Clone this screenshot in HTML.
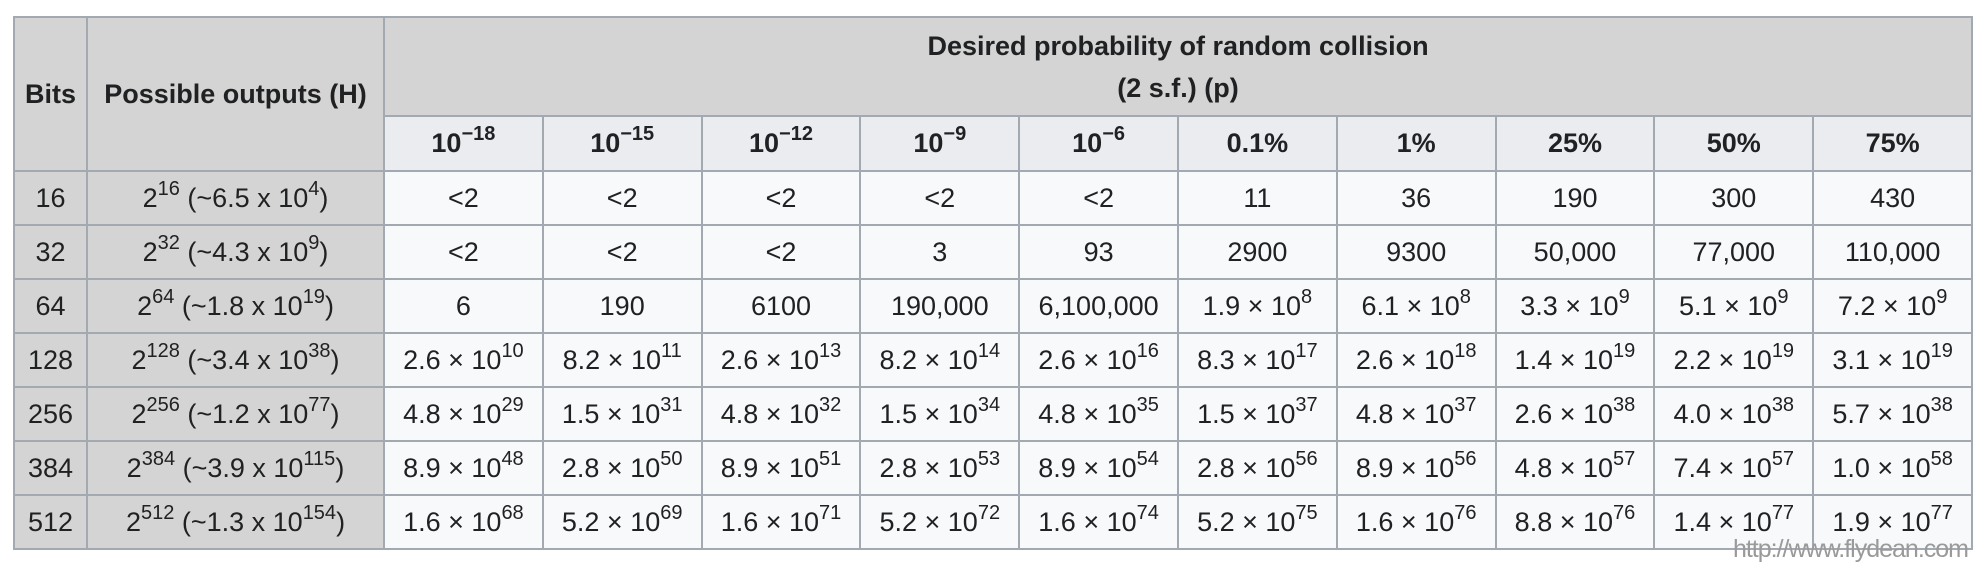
<!DOCTYPE html>
<html><head><style>
html,body{margin:0;padding:0;background:#fff;width:1974px;height:564px;overflow:hidden}
table{position:absolute;left:13px;top:16px;border-collapse:collapse;table-layout:fixed;width:1958px;font-family:"Liberation Sans",sans-serif;font-size:27px;color:#202122}
td,th{border:2px solid #a2a9b1;text-align:center;padding:0;background:#f8f9fa;white-space:nowrap}
th{font-weight:bold}
.g{background:#d4d4d4}
.s{background:#eaecf0;height:53px}
tr.d td{height:52px}
sup{font-size:20px;vertical-align:12px;line-height:0}
.wm{position:absolute;right:6px;top:535px;font-family:"Liberation Sans",sans-serif;font-size:25px;color:#9a9a9a;letter-spacing:-1px}
</style></head><body>
<table>
<colgroup><col style="width:73px"><col style="width:297px"><col span="10" style="width:158.8px"></colgroup>
<tr style="height:99px"><th class="g" rowspan="2">Bits</th><th class="g" rowspan="2">Possible outputs (H)</th><th class="g" colspan="10" style="line-height:42px">Desired probability of random collision<br>(2 s.f.) (p)</th></tr>
<tr><th class="s">10<sup>−18</sup></th><th class="s">10<sup>−15</sup></th><th class="s">10<sup>−12</sup></th><th class="s">10<sup>−9</sup></th><th class="s">10<sup>−6</sup></th><th class="s">0.1%</th><th class="s">1%</th><th class="s">25%</th><th class="s">50%</th><th class="s">75%</th></tr>
<tr class="d"><td class="g">16</td><td class="g">2<sup>16</sup> (~6.5 x 10<sup>4</sup>)</td><td>&lt;2</td><td>&lt;2</td><td>&lt;2</td><td>&lt;2</td><td>&lt;2</td><td>11</td><td>36</td><td>190</td><td>300</td><td>430</td></tr>
<tr class="d"><td class="g">32</td><td class="g">2<sup>32</sup> (~4.3 x 10<sup>9</sup>)</td><td>&lt;2</td><td>&lt;2</td><td>&lt;2</td><td>3</td><td>93</td><td>2900</td><td>9300</td><td>50,000</td><td>77,000</td><td>110,000</td></tr>
<tr class="d"><td class="g">64</td><td class="g">2<sup>64</sup> (~1.8 x 10<sup>19</sup>)</td><td>6</td><td>190</td><td>6100</td><td>190,000</td><td>6,100,000</td><td>1.9 × 10<sup>8</sup></td><td>6.1 × 10<sup>8</sup></td><td>3.3 × 10<sup>9</sup></td><td>5.1 × 10<sup>9</sup></td><td>7.2 × 10<sup>9</sup></td></tr>
<tr class="d"><td class="g">128</td><td class="g">2<sup>128</sup> (~3.4 x 10<sup>38</sup>)</td><td>2.6 × 10<sup>10</sup></td><td>8.2 × 10<sup>11</sup></td><td>2.6 × 10<sup>13</sup></td><td>8.2 × 10<sup>14</sup></td><td>2.6 × 10<sup>16</sup></td><td>8.3 × 10<sup>17</sup></td><td>2.6 × 10<sup>18</sup></td><td>1.4 × 10<sup>19</sup></td><td>2.2 × 10<sup>19</sup></td><td>3.1 × 10<sup>19</sup></td></tr>
<tr class="d"><td class="g">256</td><td class="g">2<sup>256</sup> (~1.2 x 10<sup>77</sup>)</td><td>4.8 × 10<sup>29</sup></td><td>1.5 × 10<sup>31</sup></td><td>4.8 × 10<sup>32</sup></td><td>1.5 × 10<sup>34</sup></td><td>4.8 × 10<sup>35</sup></td><td>1.5 × 10<sup>37</sup></td><td>4.8 × 10<sup>37</sup></td><td>2.6 × 10<sup>38</sup></td><td>4.0 × 10<sup>38</sup></td><td>5.7 × 10<sup>38</sup></td></tr>
<tr class="d"><td class="g">384</td><td class="g">2<sup>384</sup> (~3.9 x 10<sup>115</sup>)</td><td>8.9 × 10<sup>48</sup></td><td>2.8 × 10<sup>50</sup></td><td>8.9 × 10<sup>51</sup></td><td>2.8 × 10<sup>53</sup></td><td>8.9 × 10<sup>54</sup></td><td>2.8 × 10<sup>56</sup></td><td>8.9 × 10<sup>56</sup></td><td>4.8 × 10<sup>57</sup></td><td>7.4 × 10<sup>57</sup></td><td>1.0 × 10<sup>58</sup></td></tr>
<tr class="d"><td class="g">512</td><td class="g">2<sup>512</sup> (~1.3 x 10<sup>154</sup>)</td><td>1.6 × 10<sup>68</sup></td><td>5.2 × 10<sup>69</sup></td><td>1.6 × 10<sup>71</sup></td><td>5.2 × 10<sup>72</sup></td><td>1.6 × 10<sup>74</sup></td><td>5.2 × 10<sup>75</sup></td><td>1.6 × 10<sup>76</sup></td><td>8.8 × 10<sup>76</sup></td><td>1.4 × 10<sup>77</sup></td><td>1.9 × 10<sup>77</sup></td></tr>
</table>
<div class="wm">http://www.flydean.com</div>
</body></html>
